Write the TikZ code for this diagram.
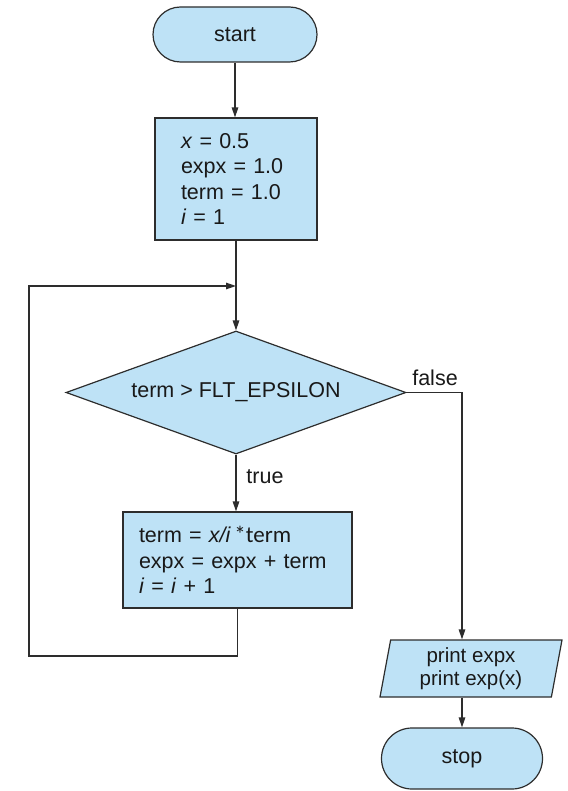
\documentclass[tikz,border=0pt]{standalone}
\usepackage{fontspec}
\setmainfont{Liberation Sans}
\newfontfamily\carl{Carlito}
\usetikzlibrary{shapes.geometric,shapes.misc,arrows.meta}
\definecolor{boxfill}{RGB}{190,226,246}
\definecolor{edge}{RGB}{45,45,45}
\definecolor{ink}{RGB}{25,25,25}
\begin{document}
\begin{tikzpicture}[x=1pt,y=-1pt,
  every node/.style={font=\fontsize{21.5}{25.5}\selectfont, text=ink},
  termbox/.style={rounded rectangle, draw=edge, fill=boxfill, line width=1.2pt, inner sep=0pt},
  procbox/.style={rectangle, draw=edge, fill=boxfill, line width=1.2pt, align=left, inner ysep=0pt},
  decision/.style={diamond, draw=edge, fill=boxfill, line width=1.2pt, inner sep=0pt, aspect=2.76},
  iobox/.style={trapezium, trapezium left angle=76, trapezium right angle=104, trapezium stretches body=true, draw=edge, fill=boxfill, line width=1.2pt, inner sep=0pt, align=center, font=\fontsize{20.5}{23.5}\selectfont},
  arr/.style={draw=edge, line width=1.3pt, -{Triangle[length=10pt,width=6.5pt]}},
  lbl/.style={inner sep=0pt}
]
\useasboundingbox (0,0) rectangle (567,791);

\node[termbox, minimum width=164pt, minimum height=55pt] (start) at (235,34.5) {start};
\node[procbox, minimum width=162pt, minimum height=122pt, text width=110pt, inner xsep=26pt] (init) at (236,179)
  {\textit{x} = 0.5\\ expx = 1.0\\ term = 1.0\\ \textit{i} = 1};
\coordinate (join) at (236,286);
\node[decision, minimum width=340pt, minimum height=123pt] (dec) at (236,392.5) {term > FLT\_EPSILON};
\node[procbox, minimum width=229pt, minimum height=96pt, text width=197pt, inner xsep=16pt] (upd) at (237.5,560)
  {term = \textit{x/i}\,{\carl\fontsize{23}{25.5}\selectfont *term}\\ expx = expx + term\\ \textit{i} = \textit{i} + 1};
\node[iobox, minimum width=182pt, minimum height=57pt] (print) at (471,668.5) {print expx\\print exp(x)};
\node[termbox, minimum width=161pt, minimum height=61pt] (stop) at (462,758.5) {stop};
\coordinate (loopbl) at (29,656);

\draw[arr] (start.south) -- (start.south |- init.north);
\draw[arr] (init.south) -- (dec.north);
\draw[arr] (upd.south) |- (loopbl) |- (join);
\draw[arr] (dec.south) -- (dec.south |- upd.north);
\draw[arr] (dec.east) -| (stop.north |- print.north);
\draw[arr] (stop.north |- print.south) -- (stop.north);

\node[lbl] (ltrue) at (265,477) {true};
\node[lbl] (lfalse) at (435,378) {false};
\end{tikzpicture}
\end{document}
